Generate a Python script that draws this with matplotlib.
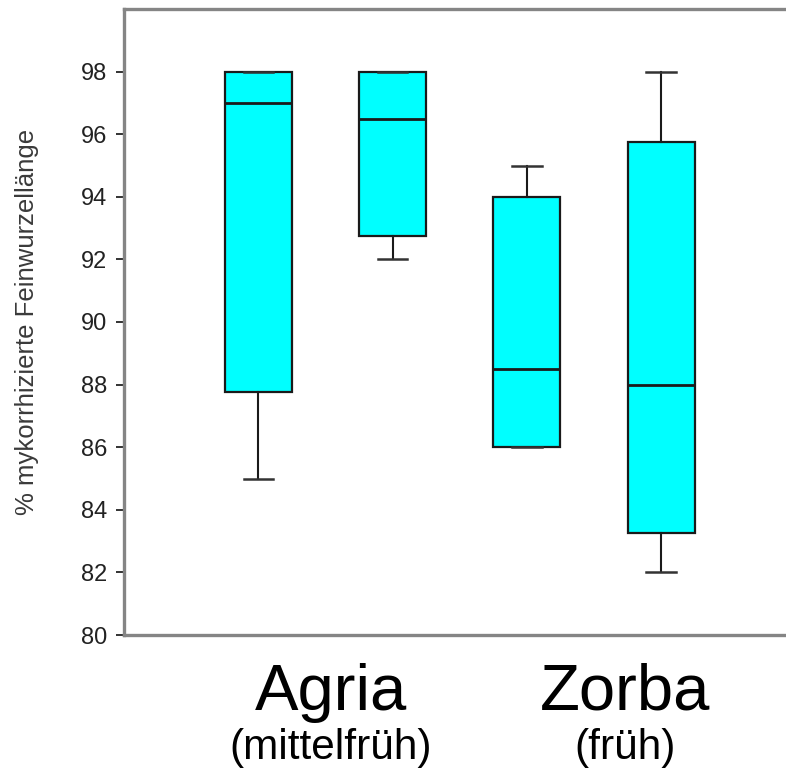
# coding=utf-8
# Boxplot: % mykorrhizierte Feinwurzellaenge, Agria vs Zorba
import matplotlib as mpl
mpl.use('Agg')
mpl.rcParams['font.family'] = ['Liberation Sans', 'DejaVu Sans']
import matplotlib.pyplot as plt

# values (one entry per box)
positions = [1, 2, 3, 4]
whis_lo = [85.0, 92.0, 86.0, 82.0]
q1 = [87.75, 92.75, 86.0, 83.25]
median = [97.0, 96.5, 88.5, 88.0]
q3 = [98.0, 98.0, 94.0, 95.75]
whis_hi = [98.0, 98.0, 95.0, 98.0]

yticks = [80, 82, 84, 86, 88, 90, 92, 94, 96, 98]
ylabel = '% mykorrhizierte Feinwurzellänge'
cultivars = ['Agria', 'Zorba']
ripeness = ['(mittelfrüh)', '(früh)']


def plot_boxes():
    W, H = 786, 775
    fig = plt.figure(figsize=(W / 100.0, H / 100.0), dpi=100)
    ax = fig.add_axes([124.0 / W, 1 - 635.0 / H, 1 - 124.0 / W, (635.0 - 9) / H])

    stats = []
    for lo, a, m, b, hi in zip(whis_lo, q1, median, q3, whis_hi):
        stats.append({'whislo': lo, 'q1': a, 'med': m, 'q3': b, 'whishi': hi, 'fliers': []})

    ax.bxp(stats, positions=positions, widths=0.5, patch_artist=True, showfliers=False,
           boxprops=dict(facecolor='#00ffff', edgecolor='#1a1a1a', linewidth=1.6),
           medianprops=dict(color='#1a1a1a', linewidth=2.0),
           whiskerprops=dict(color='#1a1a1a', linewidth=1.5),
           capprops=dict(color='#333333', linewidth=1.8), capwidths=0.22)

    ax.set_xlim(0, (W - 124.0) / 134.3)
    ax.set_ylim(80, 100)
    ax.set_xticks([])
    ax.set_yticks(yticks)
    ax.set_yticklabels([str(t) for t in yticks])
    ax.tick_params(axis='y', length=6, width=1.4, color='#333333', pad=6,
                   labelsize=17, labelcolor='#222222')

    for side in ['left', 'bottom', 'top']:
        ax.spines[side].set_color('#858585')
        ax.spines[side].set_linewidth(2.4)
    ax.spines['right'].set_visible(False)

    ax.set_ylabel(ylabel, fontsize=18.5, color='#3a3a3a')
    ax.yaxis.set_label_coords(-0.128, 0.50)

    # group labels under the axis
    for name, sub, xc in zip(cultivars, ripeness, [331, 625]):
        fig.text(xc / W, 1 - 710.0 / H, name, fontsize=47, ha='center', va='baseline', color='black')
        fig.text(xc / W, 1 - 759.0 / H, sub, fontsize=30.5, ha='center', va='baseline', color='black')

    plt.savefig('out.png', dpi=100)
    plt.close()


if __name__ == '__main__':
    plot_boxes()
